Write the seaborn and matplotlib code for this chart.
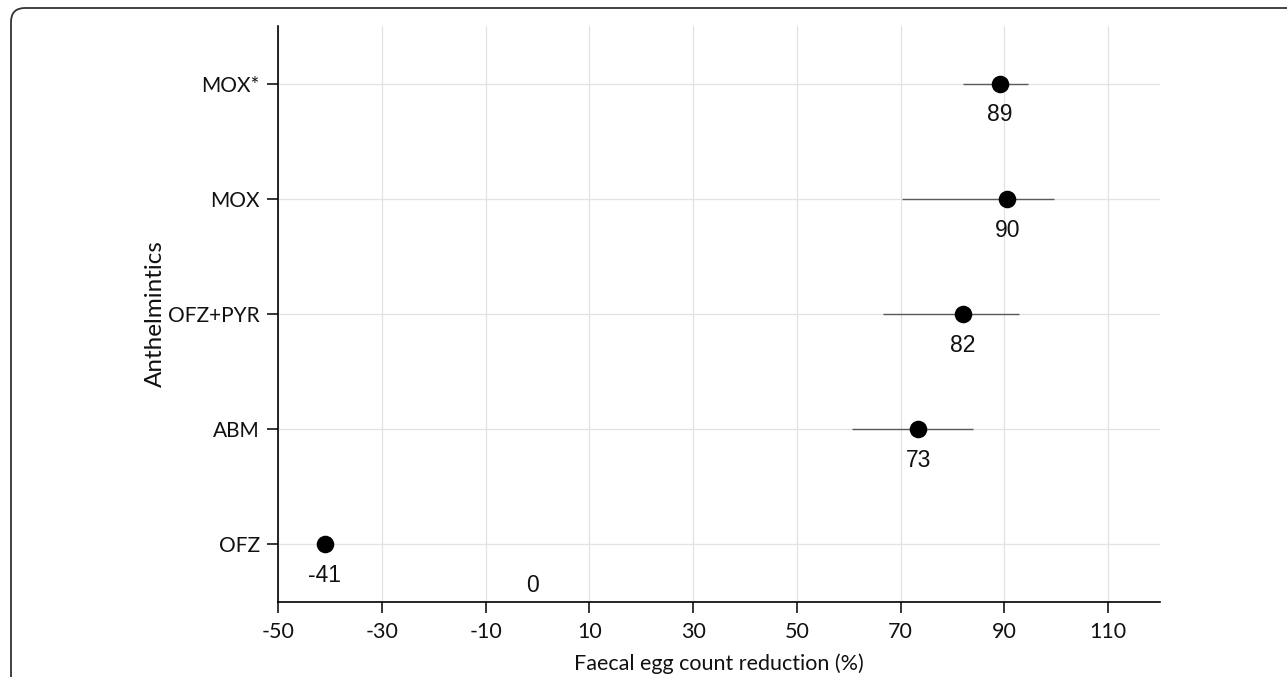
import matplotlib
matplotlib.use("Agg")
import matplotlib.pyplot as plt
from matplotlib.patches import FancyBboxPatch
import seaborn as sns
import pandas as pd

# ---- data ----
drugs = ["MOX*", "MOX", "OFZ+PYR", "ABM", "OFZ"]
fecr = [89.2, 90.6, 82.0, 73.4, -41.0]
ci_low = [82.1, 70.2, 66.7, 60.6, None]
ci_high = [94.5, 99.6, 92.8, 83.9, None]
value_labels = ["89", "90", "82", "73", "-41"]
extra_label = "0"
extra_label_x = -1.0
extra_label_y = 4.36
x_ticks = [-50, -30, -10, 10, 30, 50, 70, 90, 110]

df = pd.DataFrame({"drug": drugs, "fecr": fecr, "lo": ci_low, "hi": ci_high})

sns.set_theme(style="white")
tick_font = "Lato"
val_font = "Liberation Sans"

fig = plt.figure(figsize=(12.87, 6.77), dpi=100)
ax = fig.add_axes([278/1287, 1-602/677, (1160-278)/1287, (602-26)/677])

# error bars
for i, row in df.iterrows():
    if pd.notna(row["lo"]):
        ax.hlines(i, row["lo"], row["hi"], color="#5a5a5a", lw=1.0, zorder=2)

sns.scatterplot(data=df, x="fecr", y="drug", ax=ax, s=160, color="black",
                edgecolor="black", linewidth=0, zorder=3, legend=False)

for i, (v, lab) in enumerate(zip(fecr, value_labels)):
    ax.annotate(lab, (v, i), xytext=(0, -22.5), textcoords="offset points",
                ha="center", va="center", fontsize=16.5, family=val_font, color="#111111")
ax.text(extra_label_x, extra_label_y, extra_label, ha="center", va="center",
        fontsize=16.5, family=val_font, color="#111111")

ax.set_xlim(-50, 120)
ax.set_ylim(4.5, -0.5)
ax.set_xticks(x_ticks)
ax.set_xticklabels([str(t) for t in x_ticks])
ax.grid(True, color="#e2e2e2", lw=0.9)
ax.set_axisbelow(True)

for s in ["top", "right"]:
    ax.spines[s].set_visible(False)
for s in ["left", "bottom"]:
    ax.spines[s].set_color("black")
    ax.spines[s].set_linewidth(1.2)

ax.tick_params(axis="both", which="both", length=8, width=1.1, color="black",
               labelsize=15.5, labelcolor="#111111", pad=5)
ax.tick_params(axis="x", bottom=True, length=8, pad=6.5)
ax.tick_params(axis="y", left=True, labelsize=15)
for lab in ax.get_xticklabels() + ax.get_yticklabels():
    lab.set_family(tick_font)

ax.set_xlabel("Faecal egg count reduction (%)", fontsize=15.5, family=tick_font,
              color="#111111", labelpad=8)
ax.set_ylabel("Anthelmintics", fontsize=17.5, family=tick_font, color="#111111")
ax.yaxis.set_label_coords(-0.1395, 0.5)
ax.yaxis.label.set_verticalalignment("center")

# outer rounded border (partial frame as in the reference)
border = FancyBboxPatch((11, -60), 1400, 677 - 8 + 60,
                        boxstyle="round,pad=0,rounding_size=14",
                        transform=None, fill=False, edgecolor="#333333",
                        lw=1.3, clip_on=False)
fig.add_artist(border)

fig.savefig("out.png", dpi=100)
